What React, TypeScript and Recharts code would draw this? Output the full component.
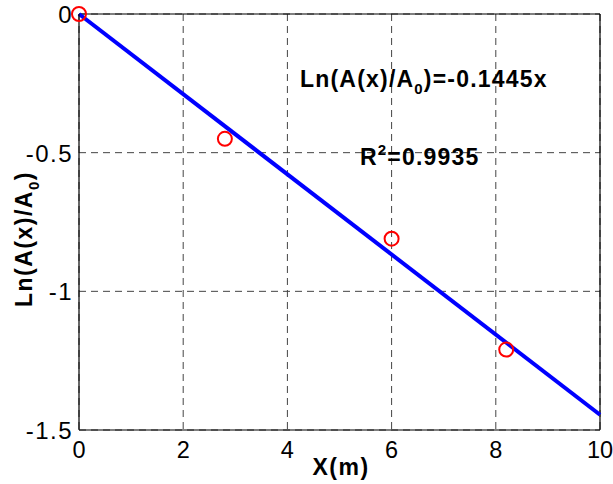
import React from "react";
import {
  ComposedChart,
  Line,
  Scatter,
  XAxis,
  YAxis,
  CartesianGrid,
  ReferenceLine,
} from "recharts";

// measured points
const obsX = [0, 2.8, 6, 8.2];
const obsY = [0, -0.45, -0.81, -1.21];

// fitted line end points (slope -0.1445)
const fitX = [0, 10];
const fitY = [0, -1.445];

const xTicks = [0, 2, 4, 6, 8, 10];
const yTicks = [-1.5, -1, -0.5, 0];

const observed = obsX.map((x, i) => ({ x, y: obsY[i] }));
const fitted = fitX.map((x, i) => ({ x, y: fitY[i] }));

const FONT = '"Liberation Sans", Arial, Helvetica, sans-serif';
const W = 613;
const H = 484;

const RedCircle = (props: any) => (
  <circle cx={props.cx} cy={props.cy} r={7} fill="none" stroke="#ff0000" strokeWidth={2} />
);

const XTick = (props: any) => (
  <text
    x={props.x}
    y={props.y + 17}
    textAnchor="middle"
    fontFamily={FONT}
    fontSize={23.5}
    fill="#000"
  >
    {props.payload.value}
  </text>
);

const YTick = (props: any) => (
  <text
    x={props.x}
    y={props.y + 9}
    textAnchor="end"
    fontFamily={FONT}
    fontSize={24}
    letterSpacing={1.5}
    fill="#000"
  >
    {props.payload.value}
  </text>
);

export default function App() {
  return (
    <div style={{ position: "absolute", left: 0, top: 0, width: W, height: H, background: "#fff" }}>
      <ComposedChart
        width={W}
        height={H}
        margin={{ top: 14, right: 13, bottom: 0, left: 0 }}
      >
        <CartesianGrid stroke="#444" strokeDasharray="7 5" strokeWidth={1} />
        <XAxis
          type="number"
          dataKey="x"
          domain={[0, 10]}
          ticks={xTicks}
          height={54}
          tickLine={false}
          tickSize={8}
          tickMargin={3}
          axisLine={{ stroke: "#000", strokeWidth: 1.2 }}
          tick={<XTick />}
        />
        <YAxis
          type="number"
          dataKey="y"
          domain={[-1.5, 0]}
          ticks={yTicks}
          width={79}
          tickLine={false}
          tickSize={4}
          tickMargin={2}
          axisLine={{ stroke: "#000", strokeWidth: 1.2 }}
          tick={<YTick />}
        />
        <ReferenceLine y={0} stroke="#000" strokeWidth={1.2} />
        <ReferenceLine x={10} stroke="#000" strokeWidth={1.2} />
        <Line
          data={fitted}
          dataKey="y"
          type="linear"
          stroke="#0000ff"
          strokeWidth={4}
          dot={false}
          isAnimationActive={false}
        />
        <Scatter data={observed} dataKey="y" shape={RedCircle} isAnimationActive={false} />
      </ComposedChart>
      <svg
        width={W}
        height={H}
        style={{ position: "absolute", left: 0, top: 0, pointerEvents: "none" }}
      >
        <g fontFamily={FONT} fontWeight="bold" fill="#000">
          <text x={300} y={87} fontSize={23} letterSpacing={1.2}>
            Ln(A(x)/A
            <tspan fontSize={15} dy={7}>0</tspan>
            <tspan dy={-7}>)=-0.1445x</tspan>
          </text>
          <text x={360} y={165} fontSize={23} letterSpacing={1.2}>
            R
            <tspan fontSize={15} dy={-10}>2</tspan>
            <tspan dy={10}>=0.9935</tspan>
          </text>
          <text x={341} y={475} fontSize={23} letterSpacing={1.5} textAnchor="middle">
            X(m)
          </text>
          <text
            x={32}
            y={239}
            fontSize={23}
            letterSpacing={1.5}
            textAnchor="middle"
            transform="rotate(-90 32 239)"
          >
            Ln(A(x)/A
            <tspan fontSize={15} dy={7}>0</tspan>
            <tspan dy={-7}>)</tspan>
          </text>
        </g>
      </svg>
    </div>
  );
}
